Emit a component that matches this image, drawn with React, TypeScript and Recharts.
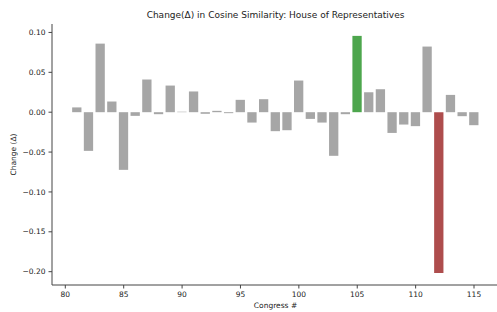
import React from 'react';
import { BarChart, Bar, XAxis, YAxis, Cell } from 'recharts';

const congresses = [
  81, 82, 83, 84, 85, 86, 87, 88, 89, 90, 91, 92, 93, 94, 95, 96, 97, 98,
  99, 100, 101, 102, 103, 104, 105, 106, 107, 108, 109, 110, 111, 112, 113, 114, 115,
];

const deltas = [
  0.006, -0.0485, 0.086, 0.0134, -0.0723, -0.0046, 0.041, -0.0025, 0.0334, 0.0006,
  0.026, -0.002, 0.0017, -0.0012, 0.0155, -0.013, 0.0163, -0.0238, -0.0226, 0.0397,
  -0.0084, -0.013, -0.0547, -0.0025, 0.0957, 0.025, 0.0288, -0.026, -0.0155, -0.0175,
  0.0823, -0.2018, 0.0217, -0.005, -0.0163,
];

const xTicks = [80, 85, 90, 95, 100, 105, 110, 115];
const yTicks = [-0.2, -0.15, -0.1, -0.05, 0, 0.05, 0.1];

const GRAY = '#a6a6a6';
const GREEN = '#4da64d';
const RED = '#ae4d4d';
const AXIS = '#444';
const FONT = '"DejaVu Sans", sans-serif';

const data = congresses.map((c, i) => ({ congress: c, delta: deltas[i] }));

const maxIdx = deltas.indexOf(Math.max(...deltas));
const minIdx = deltas.indexOf(Math.min(...deltas));

const fmtY = (v: number) => {
  const s = Math.abs(v).toFixed(2);
  return v < -1e-9 ? `\u2212${s}` : s;
};

export default function App() {
  return (
    <div
      style={{
        position: 'absolute',
        left: 0,
        top: 0,
        width: 497,
        height: 312,
        overflow: 'hidden',
        background: '#fff',
        fontFamily: FONT,
      }}
    >
      <div
        style={{
          position: 'absolute',
          top: 9,
          left: 0,
          width: 551,
          textAlign: 'center',
          fontSize: 9,
          color: '#222',
          lineHeight: '12px',
        }}
      >
        Change(Δ) in Cosine Similarity: House of Representatives
      </div>
      <BarChart
        width={520}
        height={312}
        data={data}
        margin={{ top: 24, right: 21, bottom: 0, left: 0 }}
        style={{ position: 'absolute', left: 0, top: 0 }}
      >
        <XAxis
          dataKey="congress"
          type="number"
          domain={[78.86, 117.14]}
          ticks={xTicks}
          height={27}
          stroke={AXIS}
          tickSize={3.5}
          tickMargin={3.5}
          tick={{ fontSize: 7.5, fill: '#222', fontFamily: FONT }}
          label={{ value: 'Congress #', position: 'insideBottom', offset: 4, fontSize: 7.5, fill: '#222', fontFamily: FONT }}
        />
        <XAxis
          xAxisId="top"
          dataKey="congress"
          type="number"
          orientation="top"
          domain={[78.86, 117.14]}
          height={0}
          tick={false}
          tickLine={false}
          stroke={AXIS}
        />
        <YAxis
          type="number"
          domain={[-0.2167, 0.1106]}
          ticks={yTicks}
          width={52}
          stroke={AXIS}
          tickSize={3.5}
          tickMargin={3}
          tickFormatter={fmtY}
          tick={{ fontSize: 7.5, fill: '#222', fontFamily: FONT }}
          label={{ value: 'Change (Δ)', angle: -90, position: 'insideLeft', offset: 13, fontSize: 7.5, fill: '#222', fontFamily: FONT, style: { textAnchor: 'middle' } }}
        />
        <Bar dataKey="delta" barSize={9.3} isAnimationActive={false}>
          {data.map((d, i) => (
            <Cell key={d.congress} fill={i === maxIdx ? GREEN : i === minIdx ? RED : GRAY} />
          ))}
        </Bar>
      </BarChart>
    </div>
  );
}
